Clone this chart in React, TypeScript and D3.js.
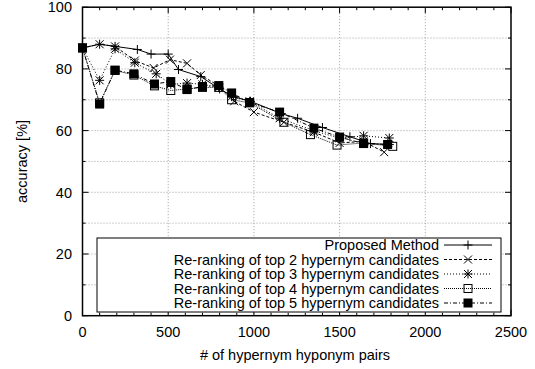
import React from "react";
import * as d3 from "d3";

const xTicks = [0, 500, 1000, 1500, 2000, 2500];
const yTicks = [0, 20, 40, 60, 80, 100];

const legendLabels = [
  "Proposed Method",
  "Re-ranking of top 2 hypernym candidates",
  "Re-ranking of top 3 hypernym candidates",
  "Re-ranking of top 4 hypernym candidates",
  "Re-ranking of top 5 hypernym candidates",
];

const proposedX = [0, 100, 190, 320, 400, 500, 560, 690, 800, 880, 980, 1160, 1255, 1400, 1560, 1680, 1790];
const proposedY = [86.8, 88, 87.3, 86.3, 84.8, 84.8, 79.8, 77.5, 73.5, 71, 69.5, 65.5, 64, 61, 58, 55.8, 55.5];

const top2X = [0, 100, 190, 305, 415, 510, 610, 690, 795, 885, 1000, 1175, 1350, 1500, 1640, 1760];
const top2Y = [86.8, 88, 87.3, 82.7, 80.3, 83, 81.8, 78, 74.5, 69.5, 66, 62.7, 59.5, 56, 56.5, 53];

const top3X = [0, 100, 190, 305, 430, 515, 610, 700, 795, 870, 975, 1150, 1350, 1500, 1640, 1790];
const top3Y = [86.8, 76.3, 86.5, 82, 78.4, 75, 75.4, 75, 74, 71, 69.5, 64, 60, 57.5, 58.3, 57.6];

const top4X = [0, 100, 190, 300, 420, 515, 610, 700, 795, 870, 975, 1175, 1330, 1485, 1640, 1810];
const top4Y = [86.8, 69, 79.5, 78, 74.5, 73, 73.5, 74, 74, 70, 69, 62.7, 58.7, 55.3, 56, 54.9];

const top5X = [0, 100, 190, 300, 420, 515, 610, 700, 795, 870, 975, 1150, 1350, 1500, 1640, 1780];
const top5Y = [86.8, 68.6, 79.6, 78.4, 75.1, 75.9, 73.3, 74.3, 74.6, 72.2, 69.1, 66, 60.8, 57.9, 55.8, 55.5];

const W = 535, H = 369;
const L = 82.5, R = 511, T = 7.2, B = 315.7;

const x = d3.scaleLinear().domain([0, 2500]).range([L, R]);
const y = d3.scaleLinear().domain([0, 100]).range([B, T]);

type MarkerKind = "plus" | "cross" | "star" | "openSquare" | "square";

const seriesList: { xs: number[]; ys: number[]; marker: MarkerKind; dash: string }[] = [
  { xs: proposedX, ys: proposedY, marker: "plus", dash: "none" },
  { xs: top2X, ys: top2Y, marker: "cross", dash: "3,2" },
  { xs: top3X, ys: top3Y, marker: "star", dash: "1,2" },
  { xs: top4X, ys: top4Y, marker: "openSquare", dash: "1,1" },
  { xs: top5X, ys: top5Y, marker: "square", dash: "4,2,1,2" },
];

function Marker({ kind, cx, cy }: { kind: MarkerKind; cx: number; cy: number }) {
  const s = 4.5;
  const c = 4;
  const plus = `M${cx - s},${cy}H${cx + s}M${cx},${cy - s}V${cy + s}`;
  const cross = `M${cx - c},${cy - c}L${cx + c},${cy + c}M${cx - c},${cy + c}L${cx + c},${cy - c}`;
  if (kind === "plus") return <path d={plus} stroke="#000" strokeWidth={1} fill="none" />;
  if (kind === "cross") return <path d={cross} stroke="#000" strokeWidth={1} fill="none" />;
  if (kind === "star") return <path d={plus + cross} stroke="#000" strokeWidth={1} fill="none" />;
  if (kind === "openSquare")
    return <rect x={cx - 4} y={cy - 4} width={8} height={8} stroke="#000" strokeWidth={1} fill="none" />;
  return <rect x={cx - 4.5} y={cy - 4.5} width={9} height={9} fill="#000" />;
}

export default function App() {
  const font = "'Liberation Sans', Arial, sans-serif";
  const fs = 14.5;
  const xMinor = d3.range(0, 2501, 100);
  const yMinor = d3.range(0, 101, 10);
  const gridY = d3.range(10, 100, 10);
  const gridX = [500, 1000, 1500, 2000];
  const line = d3.line<[number, number]>().x((d) => x(d[0])).y((d) => y(d[1]));

  const legL = 97, legR = 501, legT = 238, legB = 312;
  const rowY = (i: number) => 245 + i * 14.5;

  return (
    <svg width={W} height={H} style={{ position: "absolute", left: 0, top: 0, background: "#fff" }} fontFamily={font}>
      <rect x={0} y={0} width={W} height={H} fill="#fff" />
      {gridY.map((v) => (
        <line key={"gy" + v} x1={L} x2={R} y1={y(v)} y2={y(v)} stroke="#888" strokeWidth={0.8} strokeDasharray="1,2" />
      ))}
      {gridX.map((v) => (
        <line key={"gx" + v} x1={x(v)} x2={x(v)} y1={T} y2={B} stroke="#888" strokeWidth={0.8} strokeDasharray="1,2" />
      ))}
      {xMinor.map((v) => {
        const major = v % 500 === 0;
        const len = major ? 6 : 3;
        return (
          <g key={"xt" + v}>
            <line x1={x(v)} x2={x(v)} y1={B} y2={B - len} stroke="#000" />
            <line x1={x(v)} x2={x(v)} y1={T} y2={T + len} stroke="#000" />
          </g>
        );
      })}
      {yMinor.map((v) => {
        const major = v % 20 === 0;
        const len = major ? 6 : 3;
        return (
          <g key={"yt" + v}>
            <line x1={L} x2={L + len} y1={y(v)} y2={y(v)} stroke="#000" />
            <line x1={R} x2={R - len} y1={y(v)} y2={y(v)} stroke="#000" />
          </g>
        );
      })}
      {seriesList.map((s, i) => {
        const pts = s.xs.map((v, j) => [v, s.ys[j]] as [number, number]);
        return (
          <g key={"s" + i}>
            <path d={line(pts) || ""} fill="none" stroke="#000" strokeWidth={1} strokeDasharray={s.dash} />
            {pts.map((p, j) => (
              <Marker key={j} kind={s.marker} cx={x(p[0])} cy={y(p[1])} />
            ))}
          </g>
        );
      })}
      <rect x={legL} y={legT} width={legR - legL} height={legB - legT} fill="#fff" stroke="#000" strokeWidth={1} />
      {seriesList.map((s, i) => (
        <g key={"lg" + i}>
          <text x={439} y={rowY(i)} dy="0.36em" textAnchor="end" fontSize={fs} fill="#000">
            {legendLabels[i]}
          </text>
          <line x1={444} x2={492} y1={rowY(i)} y2={rowY(i)} stroke="#000" strokeWidth={1} strokeDasharray={s.dash} />
          <Marker kind={s.marker} cx={468} cy={rowY(i)} />
        </g>
      ))}
      <rect x={L} y={T} width={R - L} height={B - T} fill="none" stroke="#000" strokeWidth={1.5} />
      {xTicks.map((v) => (
        <text key={"xl" + v} x={x(v)} y={332} dy="0.36em" textAnchor="middle" fontSize={fs}>
          {v}
        </text>
      ))}
      {yTicks.map((v) => (
        <text key={"yl" + v} x={72} y={y(v)} dy="0.36em" textAnchor="end" fontSize={fs}>
          {v}
        </text>
      ))}
      <text x={295} y={355} dy="0.36em" textAnchor="middle" fontSize={fs}>
        # of hypernym hyponym pairs
      </text>
      <text transform={`translate(22,${(T + B) / 2}) rotate(-90)`} textAnchor="middle" dy="0.36em" fontSize={fs}>
        accuracy [%]
      </text>
    </svg>
  );
}
